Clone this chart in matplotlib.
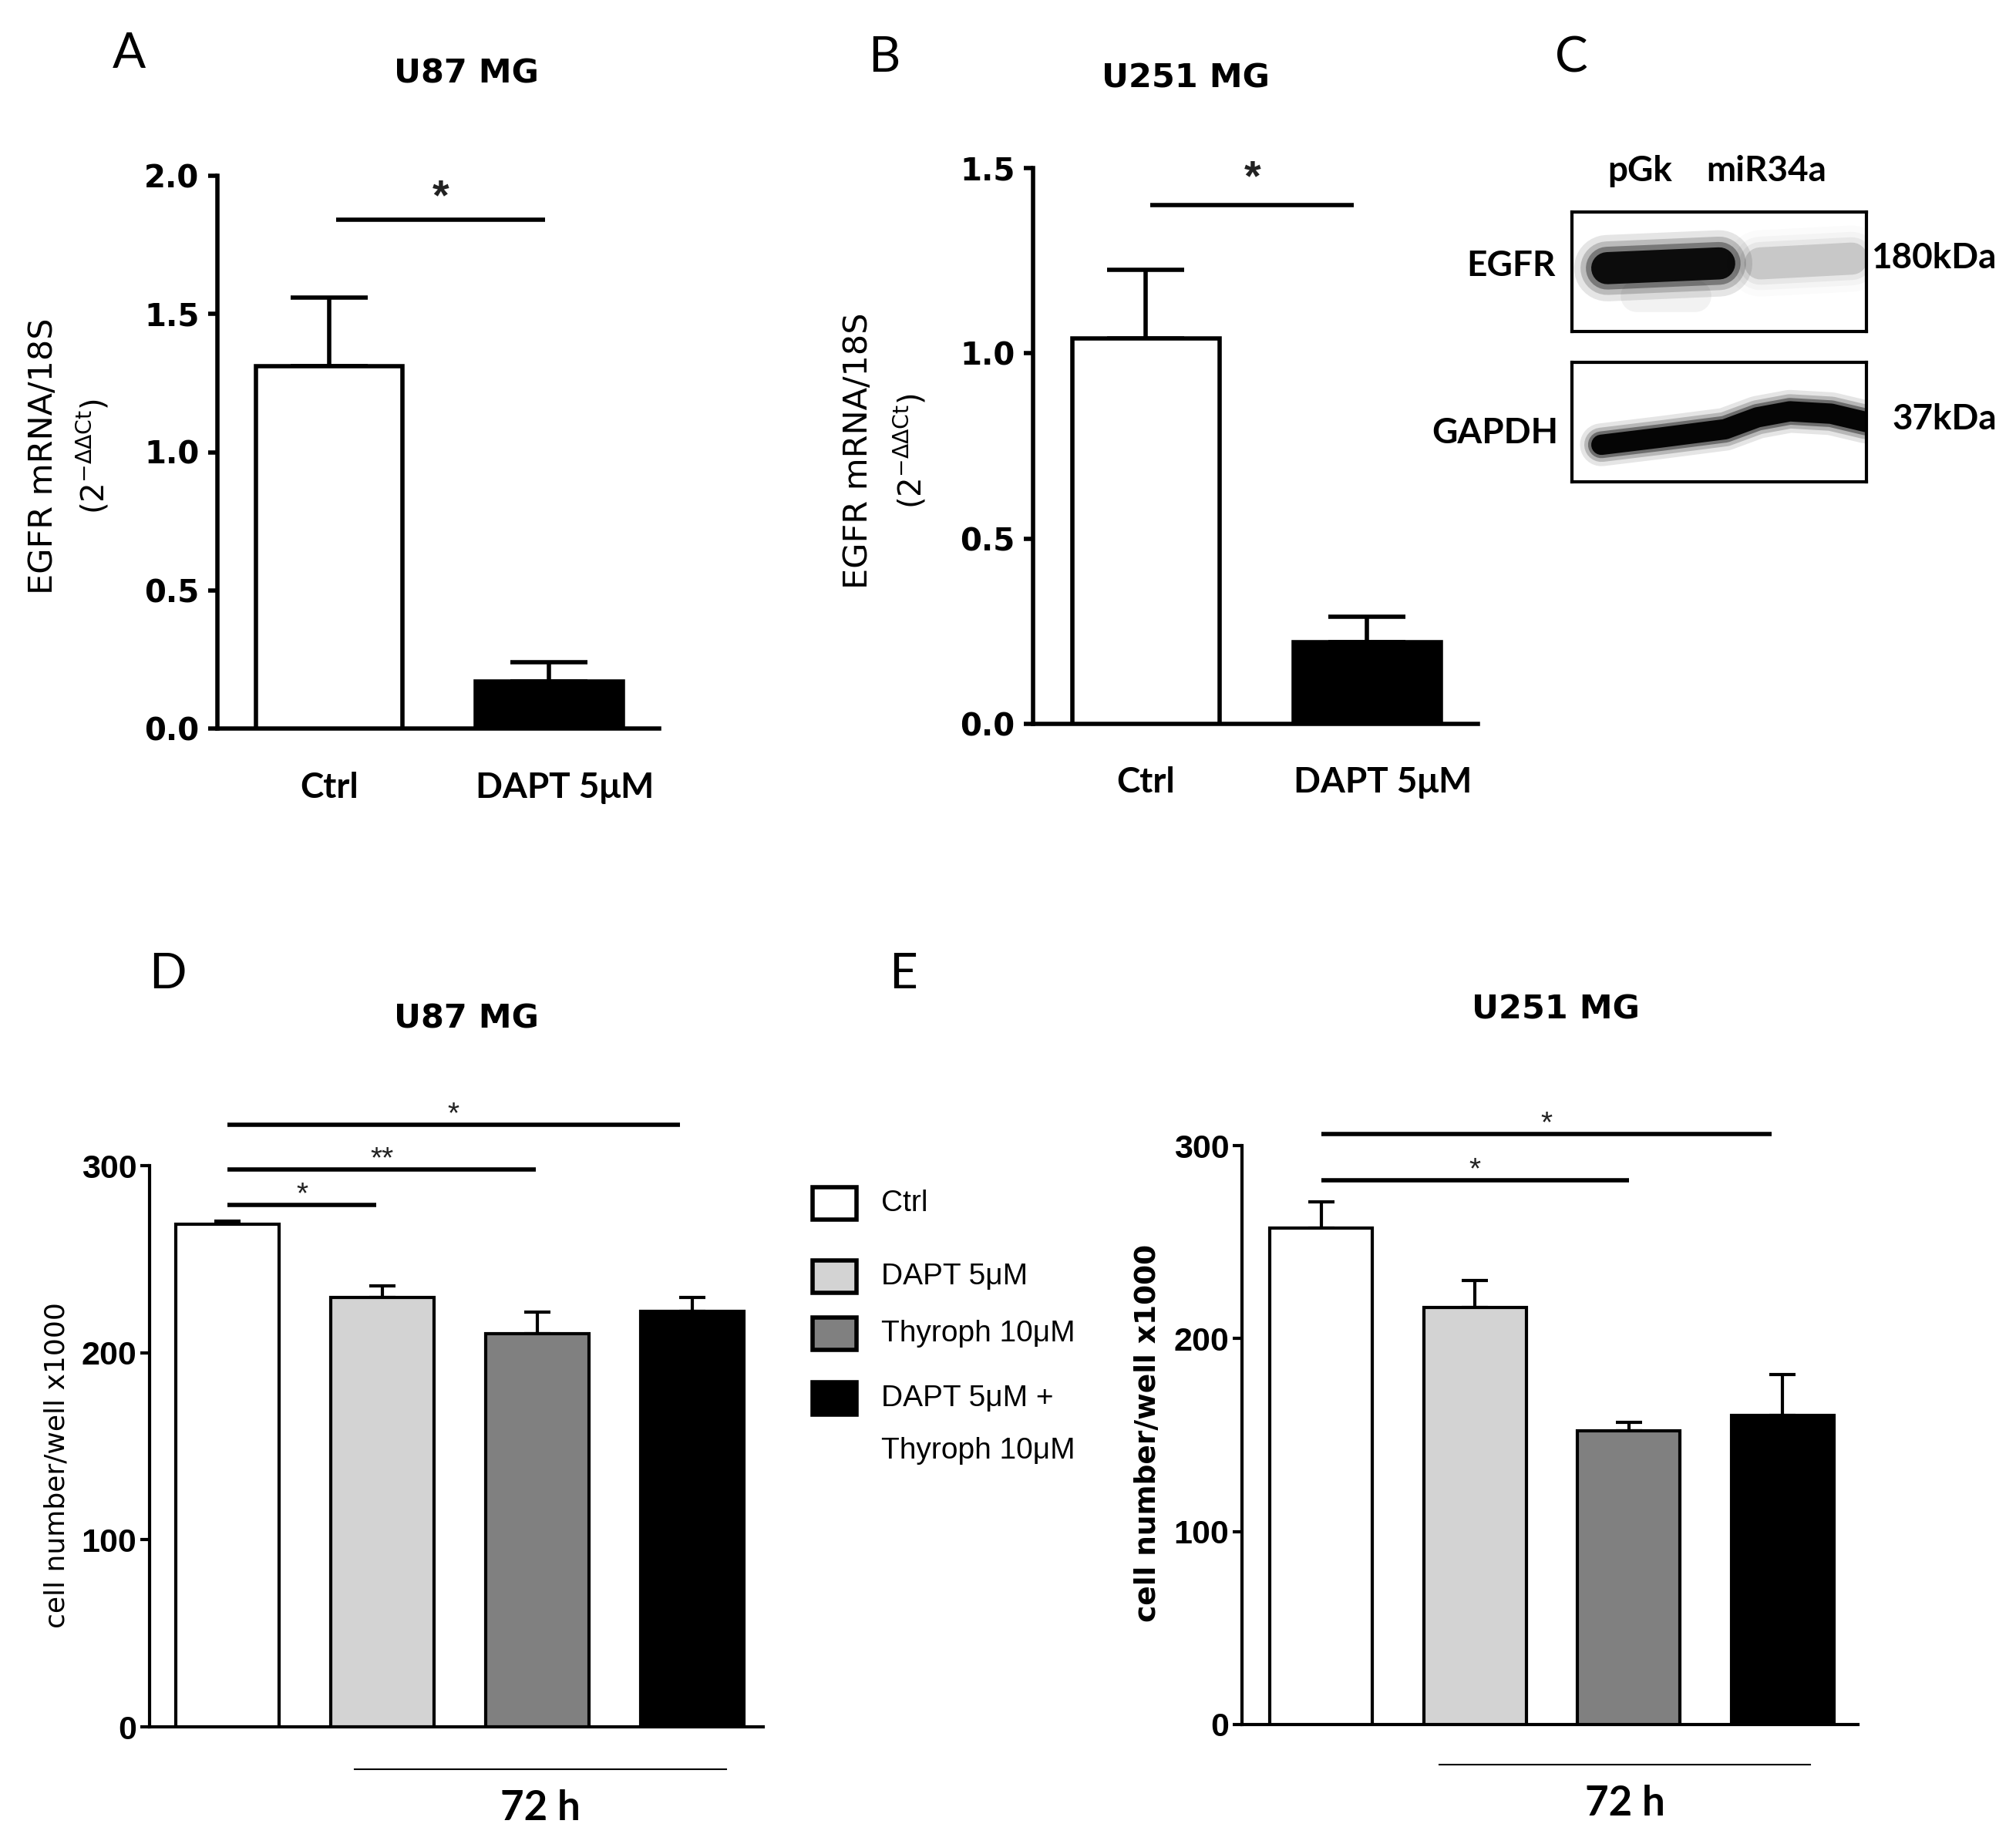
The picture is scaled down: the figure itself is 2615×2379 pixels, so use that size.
import matplotlib
matplotlib.use("Agg")
import numpy as np
import matplotlib.pyplot as plt
from matplotlib.patches import Rectangle
from matplotlib.transforms import blended_transform_factory

# ---- data ----
groups_ab = ["Ctrl", "DAPT 5μM"]
egfr_u87 = [1.31, 0.17]
egfr_u87_err = [0.25, 0.07]
egfr_u251 = [1.04, 0.22]
egfr_u251_err = [0.185, 0.07]

groups_de = ["Ctrl", "DAPT 5μM", "Thyroph 10μM", "DAPT 5μM +\nThyroph 10μM"]
cells_u87 = [268.5, 229.5, 210.3, 222.1]
cells_u87_err = [2.0, 6.2, 11.5, 7.4]
cells_u251 = [257.3, 216.1, 152.1, 160.2]
cells_u251_err = [13.5, 14.1, 4.5, 21.0]
bar_colors = ["white", "#d3d3d3", "#808080", "black"]

# significance lines: (x start, x end, y, label)
sig_a = [(0.03, 0.98, 1.84, "*")]
sig_b = [(0.02, 0.94, 1.40, "*")]
sig_d = [(0.0, 0.96, 279, "*"), (0.0, 1.99, 298, "**"), (0.0, 2.92, 322, "*")]
sig_e = [(0.0, 2.0, 282, "*"), (0.0, 2.93, 306, "*")]

# western blot: lanes, band (x0, x1, y, strength)
blot_lanes = ["pGk", "miR34a"]
egfr_bands = [(0.12, 0.50, 0.44, 1.0), (0.64, 0.95, 0.40, 0.15)]
gapdh_x = [0.10, 0.30, 0.52, 0.63, 0.74, 0.88, 1.0]
gapdh_y = [0.69, 0.63, 0.56, 0.46, 0.41, 0.43, 0.50]

W, H = 2615, 2379
fig = plt.figure(figsize=(W / 100, H / 100), dpi=100)

def add_ax(left, top, right, bottom):
    return fig.add_axes([left / W, 1 - bottom / H, (right - left) / W, (bottom - top) / H])

def ftext(x, y, s, **kw):
    fig.text(x / W, 1 - y / H, s, **kw)

def style_axes(ax, lw, ticklen):
    for side in ["top", "right"]:
        ax.spines[side].set_visible(False)
    for side in ["left", "bottom"]:
        ax.spines[side].set_linewidth(lw)
    ax.set_xticks([])
    ax.tick_params(axis="y", direction="out", length=ticklen, width=lw)

def draw_sig(ax, sigs, lw, fs, weight, color, gap):
    for x0, x1, y, lab in sigs:
        ax.plot([x0, x1], [y, y], color="black", lw=lw, clip_on=False, solid_capstyle="butt")
        ax.annotate(lab, ((x0 + x1) / 2, y), xytext=(0, gap), textcoords="offset points",
                    ha="center", va="baseline", fontsize=fs, fontweight=weight,
                    color=color, family="Liberation Sans", annotation_clip=False)

# ---- panels A and B ----
def qpcr_panel(box, vals, errs, ymax, yticks, sigs, label_y, star_gap):
    ax = add_ax(*box)
    x = np.arange(len(vals))
    ax.errorbar(x, vals, yerr=[np.zeros(len(vals)), errs], fmt="none", ecolor="black",
                elinewidth=4, capsize=36, capthick=4, zorder=2)
    ax.bar(x, vals, width=0.667, color=["white", "black"], edgecolor="black",
           linewidth=4, zorder=3)
    ax.set_xlim(-0.51, 1.50)
    ax.set_ylim(0, ymax)
    style_axes(ax, 4, 9)
    ax.set_yticks(yticks)
    ax.set_yticklabels(["%.1f" % t for t in yticks], fontsize=29, fontweight="bold",
                       family="DejaVu Sans")
    ax.tick_params(axis="y", pad=8)
    draw_sig(ax, sigs, 4, 40, "bold", "#222222", star_gap)
    tr = blended_transform_factory(ax.transData, fig.transFigure)
    for xi, g, dx in zip(x, groups_ab, [0.0, 0.07]):
        ax.text(xi + dx, 1 - label_y / H, g, transform=tr, ha="center", va="center",
                fontsize=33, fontweight="bold", family="Lato")
    return ax

ax_a = qpcr_panel((282, 228, 855, 945), egfr_u87, egfr_u87_err, 2.0,
                  [0.0, 0.5, 1.0, 1.5, 2.0], sig_a, 1022, 10)
ax_b = qpcr_panel((1340, 218, 1917, 939), egfr_u251, egfr_u251_err, 1.5,
                  [0.0, 0.5, 1.0, 1.5], sig_b, 1015, 14)

for xl, xl2, yc in [(56, 121, 592), (1113, 1181, 585)]:
    ftext(xl, yc, "EGFR mRNA/18S", rotation=90, ha="center", va="center",
          fontsize=31, family="DejaVu Sans")
    ftext(xl2, yc, "(2$^{\\mathregular{-ΔΔCt}}$)", rotation=90, ha="center", va="center",
          fontsize=29, family="DejaVu Sans")

# ---- panels D and E ----
def cell_panel(box, vals, errs, sigs, xlim, bold_label, ylab_x, ylab_dy, line_ext, line_y, text_y):
    ax = add_ax(*box)
    x = np.arange(len(vals))
    ax.errorbar(x, vals, yerr=[np.zeros(len(vals)), errs], fmt="none", ecolor="black",
                elinewidth=3, capsize=12.5, capthick=3, zorder=2)
    ax.bar(x, vals, width=0.667, color=bar_colors, edgecolor="black", linewidth=3, zorder=3)
    ax.set_xlim(*xlim)
    ax.set_ylim(0, 300)
    style_axes(ax, 3, 9)
    ax.set_yticks([0, 100, 200, 300])
    ax.set_yticklabels(["0", "100", "200", "300"], fontsize=31, fontweight="bold",
                       family="Liberation Sans")
    ax.tick_params(axis="y", pad=3)
    draw_sig(ax, sigs, 4, 28, "normal", "#222222", 2)
    ax.plot(line_ext, [line_y, line_y], color="black", lw=1.5, clip_on=False)
    ax.text(np.mean(line_ext), text_y, "72 h", ha="center", va="center", fontsize=38,
            fontweight="bold", family="Lato", clip_on=False)
    ftext(ylab_x, (box[1] + box[3]) / 2 + ylab_dy, "cell number/well x1000", rotation=90,
          ha="center", va="center", fontsize=27 if bold_label else 26,
          fontweight="bold" if bold_label else "normal", family="DejaVu Sans")
    return ax

ax_d = cell_panel((194, 1512, 990, 2240), cells_u87, cells_u87_err, sig_d,
                  (-0.505, 3.46), False, 74, 25, (0.82, 3.22), -22.6, -43.5)
ax_e = cell_panel((1611, 1486, 2410, 2237), cells_u251, cells_u251_err, sig_e,
                  (-0.516, 3.49), True, 1489, -3, (0.77, 3.18), -20.7, -41.0)

# ---- legend for D/E ----
lg = add_ax(1000, 1480, 1450, 1930)
lg.set_xlim(1000, 1450)
lg.set_ylim(1930, 1480)
lg.axis("off")
legend_y = [1561, 1656, 1730, 1814]
for yc, col, lab in zip(legend_y, bar_colors, groups_de):
    lg.add_patch(Rectangle((1054, yc - 21), 57, 42, facecolor=col, edgecolor="black", lw=4))
    for k, line in enumerate(lab.split("\n")):
        lg.text(1143, yc + 68 * k, line, ha="left", va="center", fontsize=28,
                family="Liberation Sans")

# ---- panel C: western blot ----
def blot_box(top, bottom):
    ax = add_ax(2039, top, 2421, bottom)
    ax.set_xlim(0, 1)
    ax.set_ylim(1, 0)
    ax.set_xticks([])
    ax.set_yticks([])
    for s in ax.spines.values():
        s.set_linewidth(3)
    return ax

bx1 = blot_box(275, 430)
for x0, x1, yc, strength in egfr_bands:
    for lw, a in [(62, 0.10), (50, 0.18), (40, 0.35), (30, 0.9)]:
        bx1.plot([x0, x1], [yc + 0.03, yc - 0.01], color="black", lw=lw,
                 alpha=a * strength, solid_capstyle="round")
bx1.plot([0.22, 0.42], [0.70, 0.70], color="black", lw=30, alpha=0.05, solid_capstyle="round")

bx2 = blot_box(470, 625)
for lw, a in [(40, 0.10), (32, 0.2), (25, 0.4), (19, 0.95)]:
    bx2.plot(gapdh_x, gapdh_y, color="black", lw=lw, alpha=a, solid_capstyle="round",
             solid_joinstyle="round")

for xc, lab in zip([2127, 2291], blot_lanes):
    ftext(xc, 222, lab, ha="center", va="center", fontsize=33, fontweight="bold", family="Lato")
ftext(2018, 345, "EGFR", ha="right", va="center", fontsize=33, fontweight="bold", family="Lato")
ftext(2021, 562, "GAPDH", ha="right", va="center", fontsize=33, fontweight="bold", family="Lato")
ftext(2427, 335, "180kDa", ha="left", va="center", fontsize=33, fontweight="bold", family="Lato")
ftext(2455, 544, "37kDa", ha="left", va="center", fontsize=33, fontweight="bold", family="Lato")

# ---- titles and panel letters ----
for x, y, t in [(605, 95, "U87 MG"), (1538, 102, "U251 MG"),
                (605, 1321, "U87 MG"), (2018, 1309, "U251 MG")]:
    ftext(x, y, t, ha="center", va="center", fontsize=31, fontweight="bold", family="DejaVu Sans")
for x, y, t in [(167, 70, "A"), (1147, 75, "B"), (2038, 75, "C"),
                (217, 1264, "D"), (1172, 1264, "E")]:
    ftext(x, y, t, ha="center", va="center", fontsize=46, family="Lato")

fig.savefig("out.png", dpi=100, facecolor="white")
